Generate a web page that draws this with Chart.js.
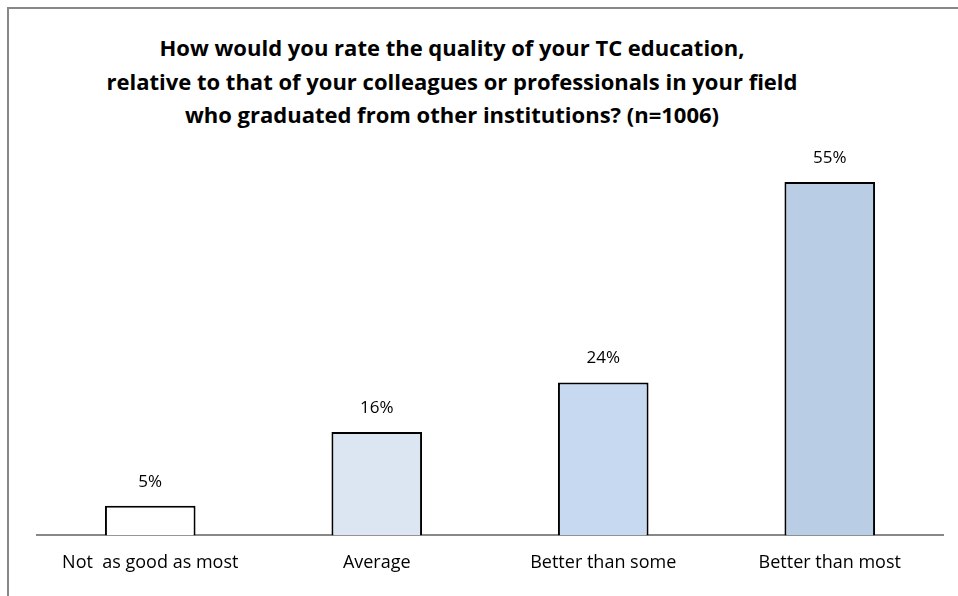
<!DOCTYPE html>
<html>
<head>
<meta charset="utf-8">
<script src="https://cdn.jsdelivr.net/npm/chart.js@4"></script>
<style>
    html, body { margin: 0; padding: 0; background: #fff; }
    #wrap { position: relative; width: 958px; height: 596px; overflow: hidden; }
    #frame { position: absolute; left: 7px; top: 7px; width: 1000px; height: 700px;
             border-left: 2px solid #888; border-top: 2px solid #888; }
    #title { position: absolute; left: 2px; width: 900px; top: 31px; text-align: center;
             font: bold 22px "Open Sans", sans-serif; line-height: 33.5px; color: #000; }
    #chart { position: absolute; left: 0; top: 0; }
</style>
</head>
<body>
<div id="wrap">
    <div id="frame"></div>
    <div id="title">How would you rate the quality of your TC education,<br>relative to that of your colleagues or professionals in your field<br>who graduated from other institutions? (n=1006)</div>
    <canvas id="chart" width="958" height="596"></canvas>
</div>
<script>
const categories = ['Not  as good as most', 'Average', 'Better than some', 'Better than most'];
const shares = [4.6, 16.1, 23.8, 55.0];
const barColors = ['#ffffff', '#dce6f2', '#c6d9f1', '#b9cde5'];

const valueLabels = {
    id: 'valueLabels',
    afterDatasetsDraw(chart) {
        const ctx = chart.ctx;
        const meta = chart.getDatasetMeta(0);
        ctx.save();
        ctx.font = '17px "Open Sans", sans-serif';
        ctx.fillStyle = '#000';
        ctx.textAlign = 'center';
        ctx.textBaseline = 'middle';
        meta.data.forEach((bar, i) => {
            ctx.fillText(Math.round(shares[i]) + '%', bar.x, bar.y - 24);
        });
        ctx.restore();
    }
};

new Chart(document.getElementById('chart'), {
    type: 'bar',
    data: {
        labels: categories,
        datasets: [{
            data: shares,
            backgroundColor: barColors,
            borderColor: '#000',
            borderWidth: 2,
            borderSkipped: 'bottom',
            categoryPercentage: 0.8,
            barPercentage: 0.5
        }]
    },
    plugins: [valueLabels],
    options: {
        responsive: false,
        animation: false,
        layout: {padding: {left: 37, right: 15, top: 150, bottom: 13}},
        plugins: {legend: {display: false}, tooltip: {enabled: false}},
        scales: {
            x: {
                grid: {display: false},
                border: {color: '#888', width: 2},
                ticks: {color: '#000', font: {family: '"Open Sans", sans-serif', size: 18}, padding: 9}
            },
            y: {display: false, min: 0, max: 60}
        }
    }
});
</script>
</body>
</html>
